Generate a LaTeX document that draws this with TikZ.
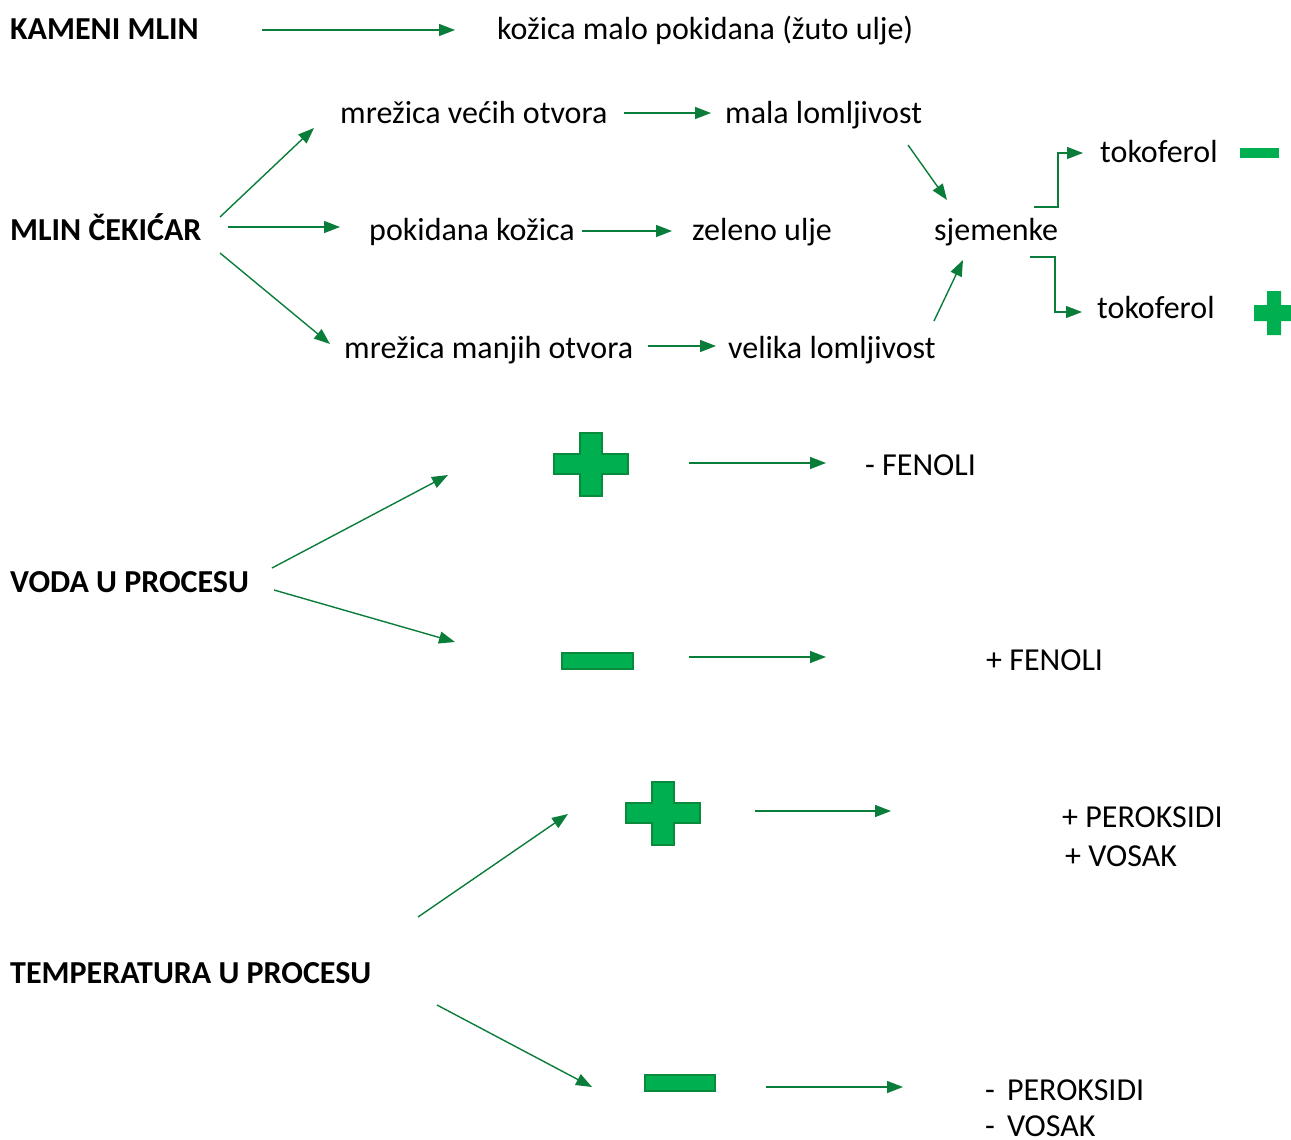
\documentclass[tikz,border=0pt]{standalone}
\usepackage{fontspec}
\setmainfont{Carlito}
\usetikzlibrary{arrows.meta}
\definecolor{arr}{HTML}{0B7D3A}
\definecolor{sgfill}{HTML}{00B050}
\definecolor{sgline}{HTML}{0A8A3C}
\tikzset{
  conn/.style={draw=arr, line width=1.4pt, -{Triangle[length=16pt,width=12pt]}},
  elb/.style={draw=arr, line width=1.2pt, -{Triangle[length=16pt,width=12pt]}},
  lbl/.style={anchor=base west, inner sep=0pt, font=\fontsize{32}{38}\selectfont},
  hd/.style={anchor=base west, inner sep=0pt, font=\fontsize{32}{38}\selectfont\bfseries},
  sign/.style={fill=sgfill, draw=sgline, line width=1.5pt},
  flat/.style={fill=sgfill},
}
\begin{document}
\begin{tikzpicture}[x=1pt,y=-1pt]
\useasboundingbox (0,0) rectangle (1291,1140);
\clip (0,0) rectangle (1291,1140);

% ---- texts
\node[hd]  (kam)  at (10,40)   {KAMENI MLIN};
\node[lbl] (koz)  at (497,40)  {kožica malo pokidana (žuto ulje)};
\node[lbl] (mv)   at (340,123) {mrežica većih otvora};
\node[lbl] (ml)   at (725,123) {mala lomljivost};
\node[hd]  (cek)  at (10,240)  {MLIN ČEKIĆAR};
\node[lbl] (pk)   at (369,240) {pokidana kožica};
\node[lbl] (zu)   at (692,240) {zeleno ulje};
\node[lbl] (sj)   at (934,240) {sjemenke};
\node[lbl] (mm)   at (344,358) {mrežica manjih otvora};
\node[lbl] (vl)   at (728,358) {velika lomljivost};
\node[lbl] (tk1)  at (1100,162) {tokoferol};
\node[lbl] (tk2)  at (1097,318) {tokoferol};

\node[hd]  (voda) at (10,592)  {VODA U PROCESU};
\node[lbl] (fm)   at (865,475) {- FENOLI};
\node[lbl] (fp)   at (986,670) {+ FENOLI};

\node[hd]  (temp) at (10,983)  {TEMPERATURA U PROCESU};
\node[lbl] (pp)   at (1062,827) {+ PEROKSIDI};
\node[lbl] (vp)   at (1065,866) {+ VOSAK};
\node[lbl] (pm)   at (985,1100) {-\hspace{12pt}PEROKSIDI};
\node[lbl] (vm)   at (985,1136) {-\hspace{12pt}VOSAK};

% ---- signs
\path[flat] (1240,148) rectangle (1279,158);
\path[flat] (1267,291) -- (1281,291) -- (1281,305) -- (1294,305) -- (1294,321) -- (1281,321)
  -- (1281,335) -- (1267,335) -- (1267,321) -- (1254,321) -- (1254,305) -- (1267,305) -- cycle;

\path[sign] (580,433) -- (602,433) -- (602,454) -- (628,454) -- (628,474) -- (602,474)
  -- (602,496) -- (580,496) -- (580,474) -- (554,474) -- (554,454) -- (580,454) -- cycle;
\path[sign] (562,653) rectangle (633,669);

\path[sign] (652,782) -- (674,782) -- (674,803) -- (700,803) -- (700,823) -- (674,823)
  -- (674,845) -- (652,845) -- (652,823) -- (626,823) -- (626,803) -- (652,803) -- cycle;
\path[sign] (645,1075) rectangle (715,1091);

% ---- connector endpoints
\coordinate (a1) at (262,30);   \coordinate (b1) at (455,30);
\coordinate (a2) at (624,113);  \coordinate (b2) at (711,113);
\coordinate (a3) at (908,145);  \coordinate (b3) at (947,200);
\coordinate (a4) at (220,217);  \coordinate (b4) at (314,128);
\coordinate (a5) at (228,227);  \coordinate (b5) at (340,227);
\coordinate (a6) at (220,253);  \coordinate (b6) at (330,344);
\coordinate (a7) at (582,231);  \coordinate (b7) at (672,231);
\coordinate (a8) at (648,346);  \coordinate (b8) at (716,346);
\coordinate (a9) at (934,321);  \coordinate (b9) at (963,260);
\coordinate (e1) at (1034,207); \coordinate (f1) at (1083,153);
\coordinate (e2) at (1030,257); \coordinate (f2) at (1082,312);

\coordinate (c1) at (272,568);  \coordinate (d1) at (448,475);
\coordinate (c2) at (274,590);  \coordinate (d2) at (455,642);
\coordinate (c3) at (689,463);  \coordinate (d3) at (826,463);
\coordinate (c4) at (689,657);  \coordinate (d4) at (826,657);

\coordinate (g1) at (418,917);  \coordinate (h1) at (568,814);
\coordinate (g2) at (437,1005); \coordinate (h2) at (592,1087);
\coordinate (g3) at (755,811);  \coordinate (h3) at (891,811);
\coordinate (g4) at (766,1087); \coordinate (h4) at (903,1087);

% ---- connectors
\foreach \s/\t in {a1/b1,a2/b2,a3/b3,a4/b4,a5/b5,a6/b6,a7/b7,a8/b8,a9/b9,
                   c1/d1,c2/d2,c3/d3,c4/d4,g1/h1,g2/h2,g3/h3,g4/h4}
  \draw[conn] (\s) -- (\t);
\draw[elb] (e1) -- (e1 -| 1058,0) |- (f1);
\draw[elb] (e2) -- (e2 -| 1055,0) |- (f2);
\end{tikzpicture}
\end{document}
